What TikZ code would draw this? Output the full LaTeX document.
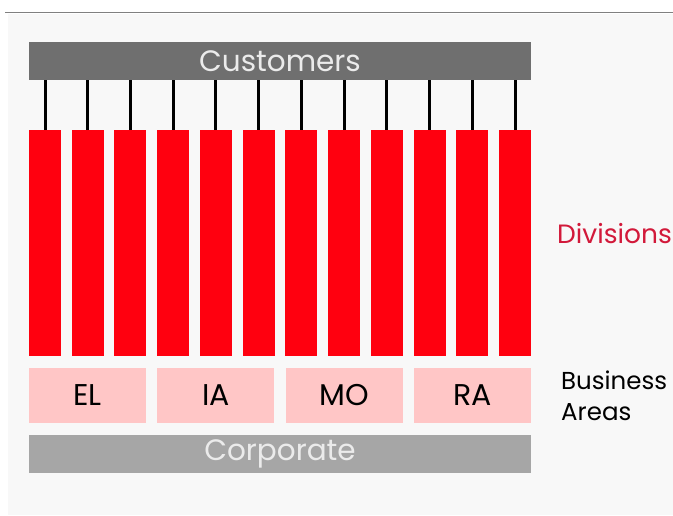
\documentclass[tikz,border=0pt]{standalone}
\usepackage{fontspec}
\setmainfont{Poppins}
\usetikzlibrary{positioning}
\definecolor{custgray}{HTML}{6F6F6F}
\definecolor{corpgray}{HTML}{A6A6A6}
\definecolor{divred}{HTML}{FF000F}
\definecolor{bapink}{HTML}{FFC6C6}
\definecolor{labelred}{HTML}{D2193A}
\definecolor{paper}{HTML}{F8F8F8}
\tikzstyle{bar}=[fill,rectangle,minimum width=502pt,minimum height=38pt,inner sep=0pt,text=white!92!black,font=\fontsize{29.5}{32}\selectfont]
\tikzstyle{division}=[fill=divred,rectangle,minimum width=32pt,minimum height=226pt,inner sep=0pt]
\tikzstyle{area}=[fill=bapink,rectangle,minimum width=117pt,minimum height=55pt,inner sep=0pt,font=\fontsize{30}{32}\selectfont]
\tikzstyle{side}=[inner sep=0pt]

\begin{document}
\begin{tikzpicture}[x=1pt,y=-1pt]
    \useasboundingbox (0,0) rectangle (673,515);
    \fill[white] (0,0) rectangle (673,515);
    \fill[paper] (8,14) rectangle (673,515);
    \draw[gray,line width=1.4pt] (5,12.5) -- (673,12.5);

    \node[bar,fill=custgray] (cust) at (280,61) {Customers};
    \node[bar,fill=corpgray] (corp) at (280,454) {Corporate};

    % one column per division, hung from the customer bar
    \foreach \i in {1,...,12} {
        \node[division] (div\i) at ({45+(\i-1)*42.73},243) {};
        \draw[line width=3pt] (div\i.north) -- (div\i.north |- cust.south);
    }

    \node[area] (el) at (87.5,395.5) {EL};
    \node[area, right=11pt of el] (ia) {IA};
    \node[area, right=11pt of ia] (mo) {MO};
    \node[area, right=11pt of mo] (ra) {RA};

    \node[side,anchor=base west,text=labelred,font=\fontsize{26.5}{30}\selectfont] (divs) at (557,243) {Divisions};
    \node[side,anchor=west,align=left,font=\fontsize{24.5}{31}\selectfont] (areas) at (561,396) {Business\\Areas};
\end{tikzpicture}
\end{document}
